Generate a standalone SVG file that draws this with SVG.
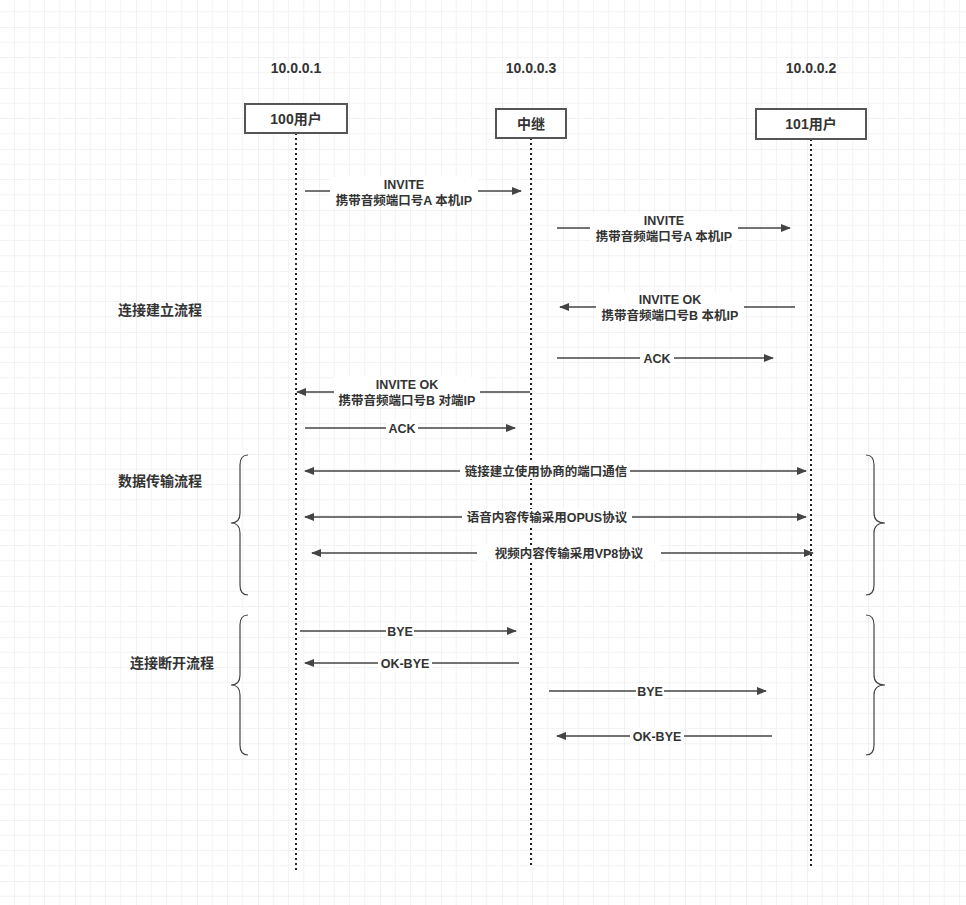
<svg xmlns="http://www.w3.org/2000/svg" width="966" height="905" viewBox="0 0 966 905">
<defs>
<pattern id="g" x="14" y="27" width="61" height="61" patternUnits="userSpaceOnUse">
<path d="M15.25 0V61M30.5 0V61M45.75 0V61M0 15.25H61M0 30.5H61M0 45.75H61" stroke="#f3f3f3" stroke-width="1" fill="none"/>
<path d="M0 0V61M0 0H61" stroke="#e8e8e8" stroke-width="1.2" fill="none"/>
</pattern>
<marker id="a" viewBox="0 0 10 10" refX="9" refY="5" markerWidth="10" markerHeight="10" markerUnits="userSpaceOnUse" orient="auto-start-reverse"><path d="M0 1L10 5L0 9Z" fill="#444"/></marker>
</defs>
<style>
text{font-family:"Liberation Sans","Noto Sans CJK SC",sans-serif;font-weight:bold;fill:#333;text-anchor:middle}
.t{font-size:14px}.s{font-size:12.5px}
.l{stroke:#444;stroke-width:1.3;fill:none}
.lf{stroke:#222;stroke-width:2;stroke-dasharray:2 3}
.box{fill:#fff;stroke:#555;stroke-width:2}
.bg{fill:#fff}
.br{stroke:#444;stroke-width:1.2;fill:none}
</style>
<rect width="966" height="905" fill="#fff"/>
<rect width="966" height="905" fill="url(#g)"/>
<g id="lifelines">
<line class="lf" x1="296" y1="133" x2="296" y2="870"/>
<line class="lf" x1="531" y1="138" x2="531" y2="866"/>
<line class="lf" x1="811" y1="139" x2="811" y2="866"/>
</g>
<g id="n1"><text class="t" x="296" y="73">10.0.0.1</text><rect class="box" x="245" y="104" width="102" height="29"/><text class="t" x="296" y="124">100用户</text></g>
<g id="n2"><text class="t" x="531" y="73">10.0.0.3</text><rect class="box" x="496" y="109" width="70" height="29"/><text class="t" x="531" y="129">中继</text></g>
<g id="n3"><text class="t" x="811" y="73">10.0.0.2</text><rect class="box" x="756" y="109" width="110" height="30"/><text class="t" x="811" y="129">101用户</text></g>
<g id="labels">
<text class="t" x="160" y="315">连接建立流程</text>
<text class="t" x="160" y="486">数据传输流程</text>
<text class="t" x="172" y="668">连接断开流程</text>
</g>
<g id="braces">
<path class="br" d="M248 455Q240 455 240 465V513Q240 523 231 523Q240 523 240 533V585Q240 595 248 595"/>
<path class="br" d="M866 455Q874 455 874 465V513Q874 523 885 523Q874 523 874 533V585Q874 595 866 595"/>
<path class="br" d="M248 615Q240 615 240 625V675Q240 685 231 685Q240 685 240 695V745Q240 755 248 755"/>
<path class="br" d="M866 615Q874 615 874 625V675Q874 685 885 685Q874 685 874 695V745Q874 755 866 755"/>
</g>
<g id="connectors">
<line class="l" x1="305" y1="191" x2="521" y2="191" marker-end="url(#a)"/>
<rect class="bg" x="330" y="177" width="148" height="30"/><text class="s" x="404" y="189">INVITE</text><text class="s" x="404" y="205">携带音频端口号A 本机IP</text>
<line class="l" x1="557" y1="228" x2="790" y2="228" marker-end="url(#a)"/>
<rect class="bg" x="590" y="213" width="148" height="30"/><text class="s" x="664" y="225">INVITE</text><text class="s" x="664" y="241">携带音频端口号A 本机IP</text>
<line class="l" x1="795" y1="307" x2="560" y2="307" marker-end="url(#a)"/>
<rect class="bg" x="596" y="292" width="148" height="30"/><text class="s" x="670" y="304">INVITE OK</text><text class="s" x="670" y="320">携带音频端口号B 本机IP</text>
<line class="l" x1="557" y1="358" x2="773" y2="358" marker-end="url(#a)"/>
<rect class="bg" x="640" y="350" width="34" height="16"/><text class="s" x="657" y="363">ACK</text>
<line class="l" x1="530" y1="392" x2="297" y2="392" marker-end="url(#a)"/>
<rect class="bg" x="334" y="377" width="146" height="30"/><text class="s" x="407" y="389">INVITE OK</text><text class="s" x="407" y="405">携带音频端口号B 对端IP</text>
<line class="l" x1="305" y1="428" x2="515" y2="428" marker-end="url(#a)"/>
<rect class="bg" x="386" y="420" width="32" height="16"/><text class="s" x="402" y="433">ACK</text>
<line class="l" x1="305" y1="471" x2="806" y2="471" marker-start="url(#a)" marker-end="url(#a)"/>
<rect class="bg" x="460" y="463" width="170" height="16"/><text class="s" x="546" y="476">链接建立使用协商的端口通信</text>
<line class="l" x1="305" y1="517" x2="806" y2="517" marker-start="url(#a)" marker-end="url(#a)"/>
<rect class="bg" x="462" y="509" width="170" height="16"/><text class="s" x="547" y="522">语音内容传输采用OPUS协议</text>
<line class="l" x1="312" y1="553" x2="813" y2="553" marker-start="url(#a)" marker-end="url(#a)"/>
<rect class="bg" x="477" y="545" width="184" height="16"/><text class="s" x="569" y="558">视频内容传输采用VP8协议</text>
<line class="l" x1="300" y1="631" x2="516" y2="631" marker-end="url(#a)"/>
<rect class="bg" x="386" y="623" width="28" height="16"/><text class="s" x="400" y="636">BYE</text>
<line class="l" x1="519" y1="663" x2="305" y2="663" marker-end="url(#a)"/>
<rect class="bg" x="378" y="655" width="54" height="16"/><text class="s" x="405" y="668">OK-BYE</text>
<line class="l" x1="549" y1="691" x2="766" y2="691" marker-end="url(#a)"/>
<rect class="bg" x="636" y="683" width="28" height="16"/><text class="s" x="650" y="696">BYE</text>
<line class="l" x1="772" y1="736" x2="557" y2="736" marker-end="url(#a)"/>
<rect class="bg" x="630" y="728" width="54" height="16"/><text class="s" x="657" y="741">OK-BYE</text>
</g>
</svg>
